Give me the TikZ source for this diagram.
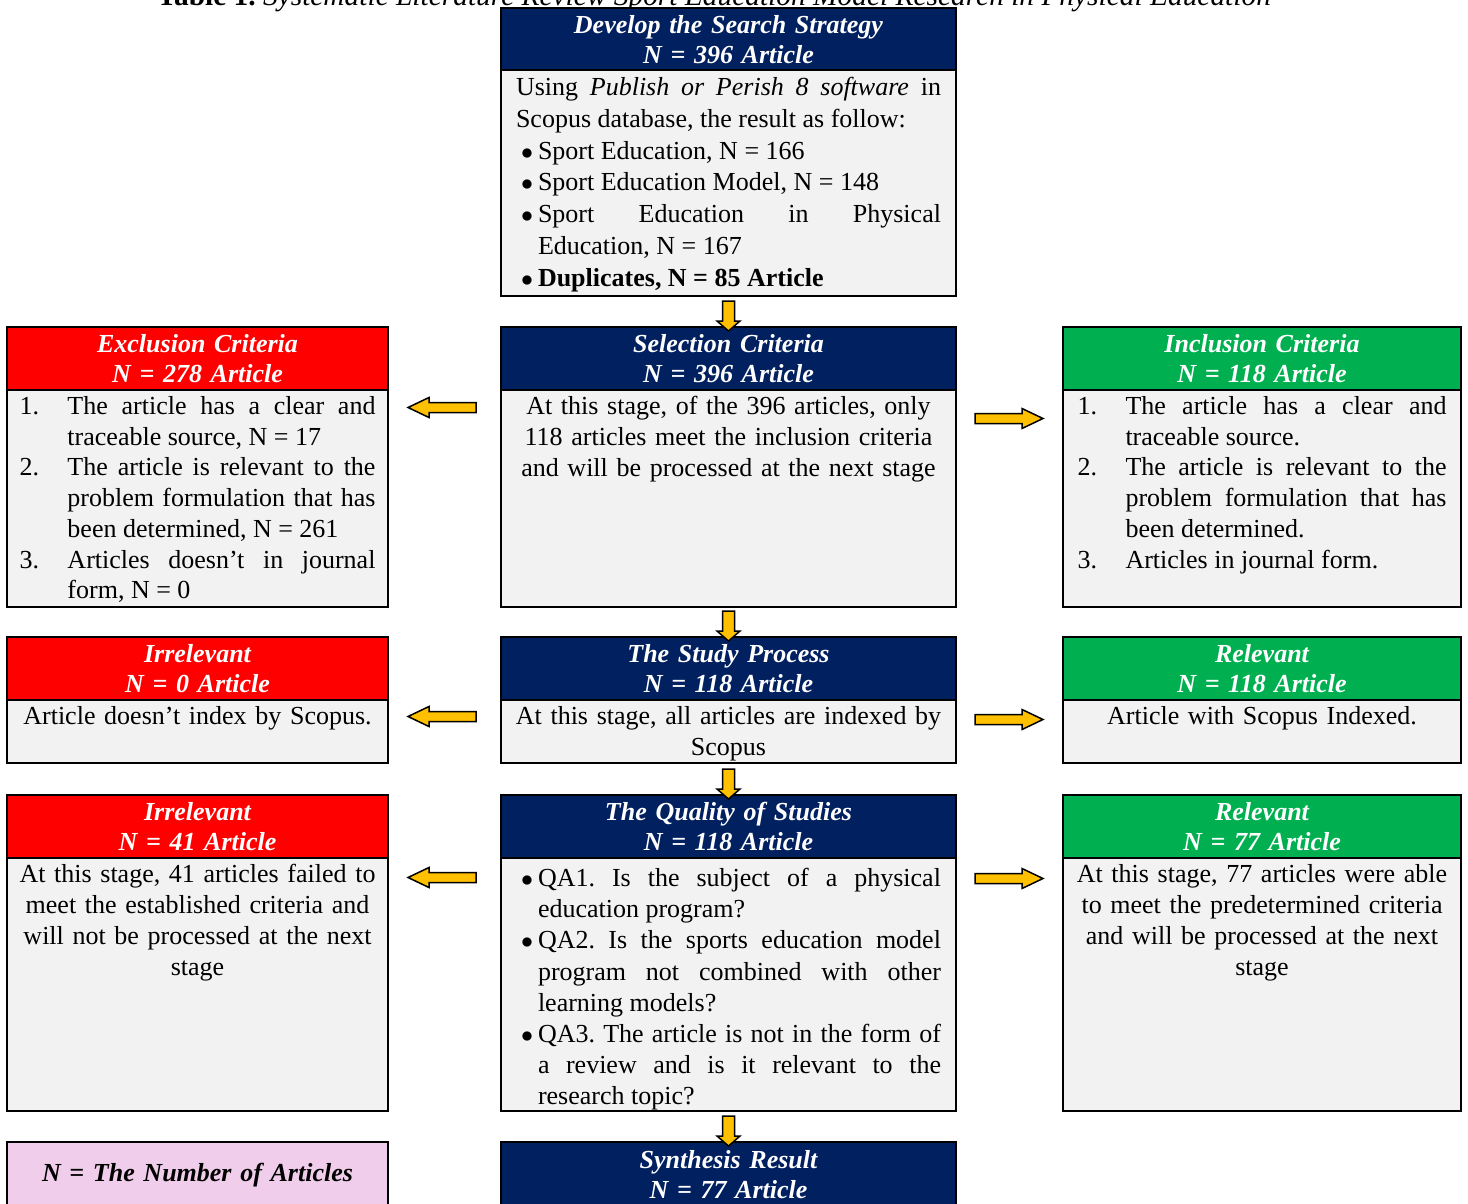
\documentclass[tikz,border=0pt]{standalone}
\usepackage{fontspec}
\setmainfont{Liberation Serif}
\usepackage{xcolor}
\usepackage{tikz}
\usetikzlibrary{positioning}
\usetikzlibrary{calc}
\definecolor{navy}{HTML}{002060}
\definecolor{redhead}{HTML}{FF0000}
\definecolor{greenhead}{HTML}{00B050}
\definecolor{bodygray}{HTML}{F2F2F2}
\definecolor{notepink}{HTML}{F0CEEB}
\definecolor{arrowyellow}{HTML}{FFC000}
\frenchspacing
\newcommand{\bulitem}[1]{\noindent\hangindent=11pt\hangafter=1\makebox[11pt][c]{$\bullet$}#1\par}
\newcommand{\numitem}[2]{\noindent\hangindent=24pt\hangafter=1\makebox[24pt][l]{#1}#2\par}
\tikzset{
    head/.style={draw, line width=1pt, fill=#1, text=white, outer sep=0pt, inner ysep=0pt,
        font=\fontsize{13pt}{15pt}\selectfont\bfseries\itshape, align=center, minimum height=31.25pt},
    body/.style={draw, line width=1pt, fill=bodygray, outer sep=0pt, inner ysep=3pt,
        font=\fontsize{13pt}{15.6pt}\selectfont, align=justify, text height=9.5pt, text depth=#1},
    lead/.style={font=\fontsize{13pt}{#1}\selectfont},
    leftcol/.style={minimum width=190.5pt, text width=178pt, inner xsep=6.25pt},
    midcol/.style={minimum width=227.5pt, text width=212.5pt, inner xsep=7.5pt},
    rightcol/.style={minimum width=199pt, text width=184.5pt, inner xsep=7.25pt},
    centered/.style={align=center, inner xsep=1pt, text width=#1},
    arrowgap/.store in=\arrowgap, arrowlen/.store in=\arrowlen, arrowhead/.store in=\arrowhead,
    arrowshaft/.store in=\arrowshaft, arrowwide/.store in=\arrowwide,
    blockarrow/.style={draw=black, fill=arrowyellow, line width=0.75pt, line join=miter,
        to path={
            ($(\tikztotarget)!\arrowgap+\arrowlen!(\tikztostart)!\arrowshaft!90:(\tikztotarget)$)
            -- ($(\tikztotarget)!\arrowgap+\arrowhead!(\tikztostart)!\arrowshaft!90:(\tikztotarget)$)
            -- ($(\tikztotarget)!\arrowgap+\arrowhead!(\tikztostart)!\arrowwide!90:(\tikztotarget)$)
            -- ($(\tikztotarget)!\arrowgap!(\tikztostart)$)
            -- ($(\tikztotarget)!\arrowgap+\arrowhead!(\tikztostart)!\arrowwide!-90:(\tikztotarget)$)
            -- ($(\tikztotarget)!\arrowgap+\arrowhead!(\tikztostart)!\arrowshaft!-90:(\tikztotarget)$)
            -- ($(\tikztotarget)!\arrowgap+\arrowlen!(\tikztostart)!\arrowshaft!-90:(\tikztotarget)$)
            -- cycle}},
    downarrow/.style={blockarrow, arrowgap=-2pt, arrowlen=15pt, arrowhead=5pt, arrowshaft=3pt, arrowwide=5.75pt},
    sidearrow/.style={blockarrow, arrowgap=10pt, arrowlen=34pt, arrowhead=10.5pt, arrowshaft=2.5pt, arrowwide=5pt},
}

\begin{document}
\begin{tikzpicture}[x=0.5pt, y=-0.5pt]
    \path[use as bounding box, clip] (0,0) rectangle (1468,1204);
    \node[anchor=base, font=\fontsize{14.7pt}{17pt}\selectfont] (title) at (714,5.5)
        {\textbf{Table 1.} \textit{Systematic Literature Review Sport Education Model Research in Physical Education}};

    \node[head=navy, midcol, anchor=north] (searchhead) at (728.5,8) {Develop the Search Strategy\\N = 396 Article};
    \node[body=97pt, midcol, lead=15.9pt, below=0pt of searchhead] (searchbody) {Using \textit{Publish or Perish 8 software} in\linebreak Scopus database, the result as follow:\par
        \bulitem{Sport Education, N = 166}
        \bulitem{Sport Education Model, N = 148}
        \bulitem{Sport Education in Physical\linebreak Education, N = 167}
        \bulitem{\textbf{Duplicates, N = 85 Article}}};

    \node[head=navy, midcol, anchor=north] (selhead) at (728.5,327) {Selection Criteria\\N = 396 Article};
    \node[body=93pt, midcol, centered=225.5pt, lead=15.5pt, below=0pt of selhead] (selbody) {At this stage, of the 396 articles, only\\118 articles meet the inclusion criteria\\and will be processed at the next stage};
    \node[head=redhead, leftcol, left=56.5pt of selhead] (exclhead) {Exclusion Criteria\\N = 278 Article};
    \node[body=93pt, leftcol, lead=15.35pt, below=0pt of exclhead] (exclbody) {%
        \numitem{1.}{The article has a clear and\linebreak traceable source, N = 17}
        \numitem{2.}{The article is relevant to the\linebreak problem formulation that has\linebreak been determined, N = 261}
        \numitem{3.}{Articles doesn’t in journal\linebreak form, N = 0}};
    \node[head=greenhead, rightcol, right=53.5pt of selhead] (inclhead) {Inclusion Criteria\\N = 118 Article};
    \node[body=93pt, rightcol, lead=15.35pt, below=0pt of inclhead] (inclbody) {%
        \numitem{1.}{The article has a clear and\linebreak traceable source.}
        \numitem{2.}{The article is relevant to the\linebreak problem formulation that has\linebreak been determined.}
        \numitem{3.}{Articles in journal form.}};

    \node[head=navy, midcol, anchor=north] (studyhead) at (728.5,637) {The Study Process\\N = 118 Article};
    \node[body=16pt, midcol, centered=225.5pt, lead=15.5pt, below=0pt of studyhead] (studybody) {At this stage, all articles are indexed by\\Scopus};
    \node[head=redhead, leftcol, left=56.5pt of studyhead] (irrhead) {Irrelevant\\N = 0 Article};
    \node[body=16pt, leftcol, centered=188.5pt, below=0pt of irrhead] (irrbody) {Article doesn’t index by Scopus.};
    \node[head=greenhead, rightcol, right=53.5pt of studyhead] (relhead) {Relevant\\N = 118 Article};
    \node[body=16pt, rightcol, centered=197pt, below=0pt of relhead] (relbody) {Article with Scopus Indexed.};

    \node[head=navy, midcol, anchor=north] (qualhead) at (728.5,795) {The Quality of Studies\\N = 118 Article};
    \node[body=109pt, midcol, text height=11.5pt, below=0pt of qualhead] (qualbody) {%
        \bulitem{QA1. Is the subject of a physical\linebreak education program?}
        \bulitem{QA2. Is the sports education model\linebreak program not combined with other\linebreak learning models?}
        \bulitem{QA3. The article is not in the form of\linebreak a review and is it relevant to the\linebreak research topic?}};
    \node[head=redhead, leftcol, left=56.5pt of qualhead] (failhead) {Irrelevant\\N = 41 Article};
    \node[body=111pt, leftcol, centered=188.5pt, lead=15.5pt, below=0pt of failhead] (failbody) {At this stage, 41 articles failed to\\meet the established criteria and\\will not be processed at the next\\stage};
    \node[head=greenhead, rightcol, right=53.5pt of qualhead] (passhead) {Relevant\\N = 77 Article};
    \node[body=111pt, rightcol, centered=197pt, lead=15.5pt, below=0pt of passhead] (passbody) {At this stage, 77 articles were able\\to meet the predetermined criteria\\and will be processed at the next\\stage};

    \node[head=navy, midcol, minimum height=33pt, anchor=north] (synth) at (728.5,1142) {Synthesis Result\\N = 77 Article};
    \node[head=notepink, leftcol, text=black, minimum height=33pt, left=56.5pt of synth] (note) {N = The Number of Articles};

    \draw[downarrow] (searchbody.south) to (selhead.north);
    \draw[downarrow] (selbody.south) to (studyhead.north);
    \draw[downarrow] (studybody.south) to (qualhead.north);
    \draw[downarrow] (qualbody.south) to (synth.north);
    \draw[sidearrow] ([yshift=-9pt]selbody.north west) to ([yshift=-9pt]exclbody.north east);
    \draw[sidearrow] ([yshift=-14.5pt]selbody.north east) to ([yshift=-14.5pt]inclbody.north west);
    \draw[sidearrow] ([yshift=-8.5pt]studybody.north west) to ([yshift=-8.5pt]irrbody.north east);
    \draw[sidearrow] ([yshift=-10pt]studybody.north east) to ([yshift=-10pt]relbody.north west);
    \draw[sidearrow] ([yshift=-10pt]qualbody.north west) to ([yshift=-10pt]failbody.north east);
    \draw[sidearrow] ([yshift=-10.5pt]qualbody.north east) to ([yshift=-10.5pt]passbody.north west);
\end{tikzpicture}
\end{document}
